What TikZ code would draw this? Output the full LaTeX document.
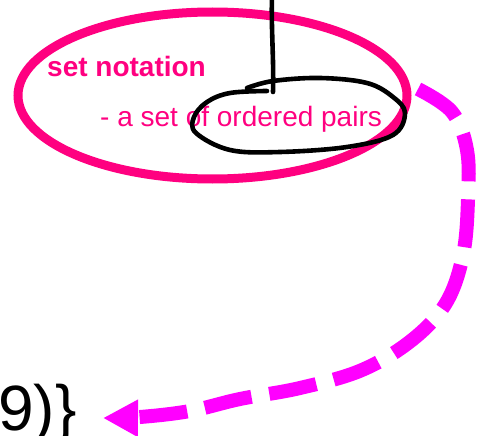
\documentclass[tikz,border=0pt]{standalone}
\usepackage{fontspec}
\setmainfont{Liberation Sans}
\usetikzlibrary{arrows.meta}
\definecolor{hotpink}{RGB}{255,0,128}
\definecolor{brightmag}{RGB}{255,0,255}
\tikzset{
  pinktext/.style={text=hotpink, inner sep=0pt, anchor=base west},
  pinkring/.style={draw=hotpink, line width=9pt},
  inkstroke/.style={draw=black, line width=4.6pt, line cap=round, line join=round},
  magarrow/.style={draw=brightmag, line width=14pt, dash pattern=on 48pt off 18pt,
    -{Triangle[length=35pt,width=35pt]}}
}
\begin{document}
\begin{tikzpicture}[x=1pt,y=-1pt]
\useasboundingbox (0,0) rectangle (480,436);
\begin{scope}
\clip (0,0) rectangle (480,436);
% pink ellipse
\draw[pinkring] (212.5,95.5) ellipse [x radius=194.5, y radius=83.5];
% texts
\node[pinktext, font=\bfseries\fontsize{28}{32}\selectfont] (title) at (47,77) {set notation};
\node[pinktext, font=\fontsize{28}{32}\selectfont] (desc) at (100,127) {- a set of ordered pairs};
\node[text=black, inner sep=0pt, anchor=base west, font=\fontsize{64}{70}\selectfont] (tail) at (-2,430) {9)\}};
% black hand strokes
\coordinate (vtop) at (272,-5);
\coordinate (vbot) at (273,92);
\draw[inkstroke] (vtop) .. controls (271,30) and (274,60) .. (vbot);
\draw[inkstroke] plot[smooth, tension=0.6] coordinates {
  (247,88) (273,81) (320,78) (367,83) (393,97) (405,113) (393,135)
  (347,147) (280,152) (230,150) (196,133) (194,117) (207,102) (230,93) (267,91)};
% magenta dashed arrow
\coordinate (astart) at (418,89);
\coordinate (aend) at (103,418);
\draw[magarrow] plot[smooth, tension=0.6] coordinates {
  (astart) (452,112) (467,150) (468,200) (463,255) (446,303) (412,340)
  (362,370) (300,388) (240,399) (190,411) (140,417) (aend)};
\end{scope}
\end{tikzpicture}
\end{document}
